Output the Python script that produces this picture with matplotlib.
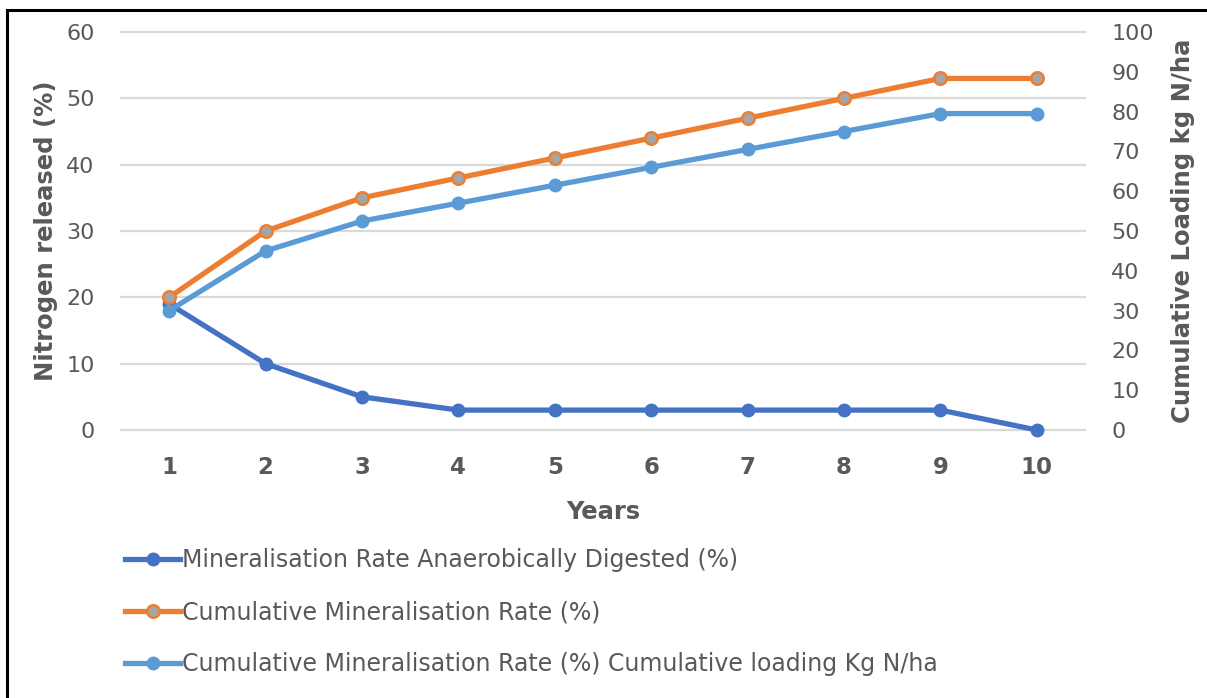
import matplotlib
matplotlib.use("Agg")
import matplotlib.pyplot as plt
from matplotlib.lines import Line2D
from matplotlib.patches import Rectangle

# Datos
years = [1, 2, 3, 4, 5, 6, 7, 8, 9, 10]
rate_anaerobic = [19, 10, 5, 3, 3, 3, 3, 3, 3, 0]          # eje izquierdo (%)
rate_cumulative = [20, 30, 35, 38, 41, 44, 47, 50, 53, 53]  # eje izquierdo (%)
loading_cumulative = [30, 45, 52.5, 57, 61.5, 66, 70.5, 75, 79.5, 79.5]  # eje derecho kg N/ha

labels = ["Mineralisation Rate Anaerobically Digested (%)",
          "Cumulative Mineralisation Rate (%)",
          "Cumulative Mineralisation Rate (%) Cumulative loading Kg N/ha"]

DARK_BLUE = "#4472C4"
ORANGE = "#ED7D31"
LIGHT_BLUE = "#5B9BD5"
GREY = "#A5A5A5"
TXT = "#595959"
GRID = "#D9D9D9"

plt.rcParams["font.family"] = ["DejaVu Sans"]

fig = plt.figure(figsize=(12.07, 6.98), dpi=100)
ax = fig.add_axes([121 / 1207, 1 - 430 / 698, (1085 - 121) / 1207, (430 - 32) / 698])
ax2 = ax.twinx()

lw = 3.8
ms = 9
ax.plot(years, rate_anaerobic, color=DARK_BLUE, lw=lw, marker="o", ms=ms,
        mfc=DARK_BLUE, mec=DARK_BLUE, solid_capstyle="round", zorder=3, clip_on=False)
ax.plot(years, rate_cumulative, color=ORANGE, lw=lw, marker="o", ms=ms,
        mfc=GREY, mec=ORANGE, mew=1.8, solid_capstyle="round", zorder=4, clip_on=False)
ax2.plot(years, loading_cumulative, color=LIGHT_BLUE, lw=lw, marker="o", ms=ms,
         mfc=LIGHT_BLUE, mec=LIGHT_BLUE, solid_capstyle="round", zorder=3, clip_on=False)

ax.set_xlim(0.5, 10.5)
ax.set_ylim(0, 60)
ax2.set_ylim(0, 100)
ax.set_yticks(range(0, 61, 10))
ax2.set_yticks(range(0, 101, 10))
ax.set_xticks(years)

ax.yaxis.grid(True, color=GRID, lw=1.6)
ax.set_axisbelow(True)
for gl in ax.get_ygridlines():
    gl.set_clip_on(False)
for a in (ax, ax2):
    for s in a.spines.values():
        s.set_visible(False)
    a.tick_params(length=0, colors=TXT, labelsize=16)
ax.tick_params(axis="y", pad=19)
ax2.tick_params(axis="y", pad=19)
ax.tick_params(axis="x", pad=19)
for t in ax.get_xticklabels():
    t.set_fontweight("bold")
    t.set_fontsize(16.5)

ax.set_xlabel("Years", fontsize=17.5, fontweight="bold", color=TXT, labelpad=15)
ax.set_ylabel("Nitrogen released (%)", fontsize=17.5, fontweight="bold", color=TXT, labelpad=6)
ax2.set_ylabel("Cumulative Loading kg N/ha", fontsize=17.5, fontweight="bold", color=TXT, labelpad=12)

handles = [
    Line2D([], [], color=DARK_BLUE, lw=lw, marker="o", ms=ms, mfc=DARK_BLUE, mec=DARK_BLUE),
    Line2D([], [], color=ORANGE, lw=lw, marker="o", ms=ms, mfc=GREY, mec=ORANGE, mew=1.8),
    Line2D([], [], color=LIGHT_BLUE, lw=lw, marker="o", ms=ms, mfc=LIGHT_BLUE, mec=LIGHT_BLUE),
]
leg = fig.legend(handles, labels, loc="upper left", bbox_to_anchor=(116 / 1207, 1 - 539 / 698),
                 frameon=False, fontsize=17, labelcolor=TXT, handlelength=2.3,
                 handletextpad=0.1, labelspacing=1.18, borderaxespad=0)

# marco negro (solo izquierda y arriba visibles)
fig.patches.append(Rectangle((7 / 1207, -0.1), 1.2, 1 - 10 / 698 + 0.1, transform=fig.transFigure,
                             fill=False, ec="black", lw=2.2))

fig.savefig("out.png", dpi=100)
